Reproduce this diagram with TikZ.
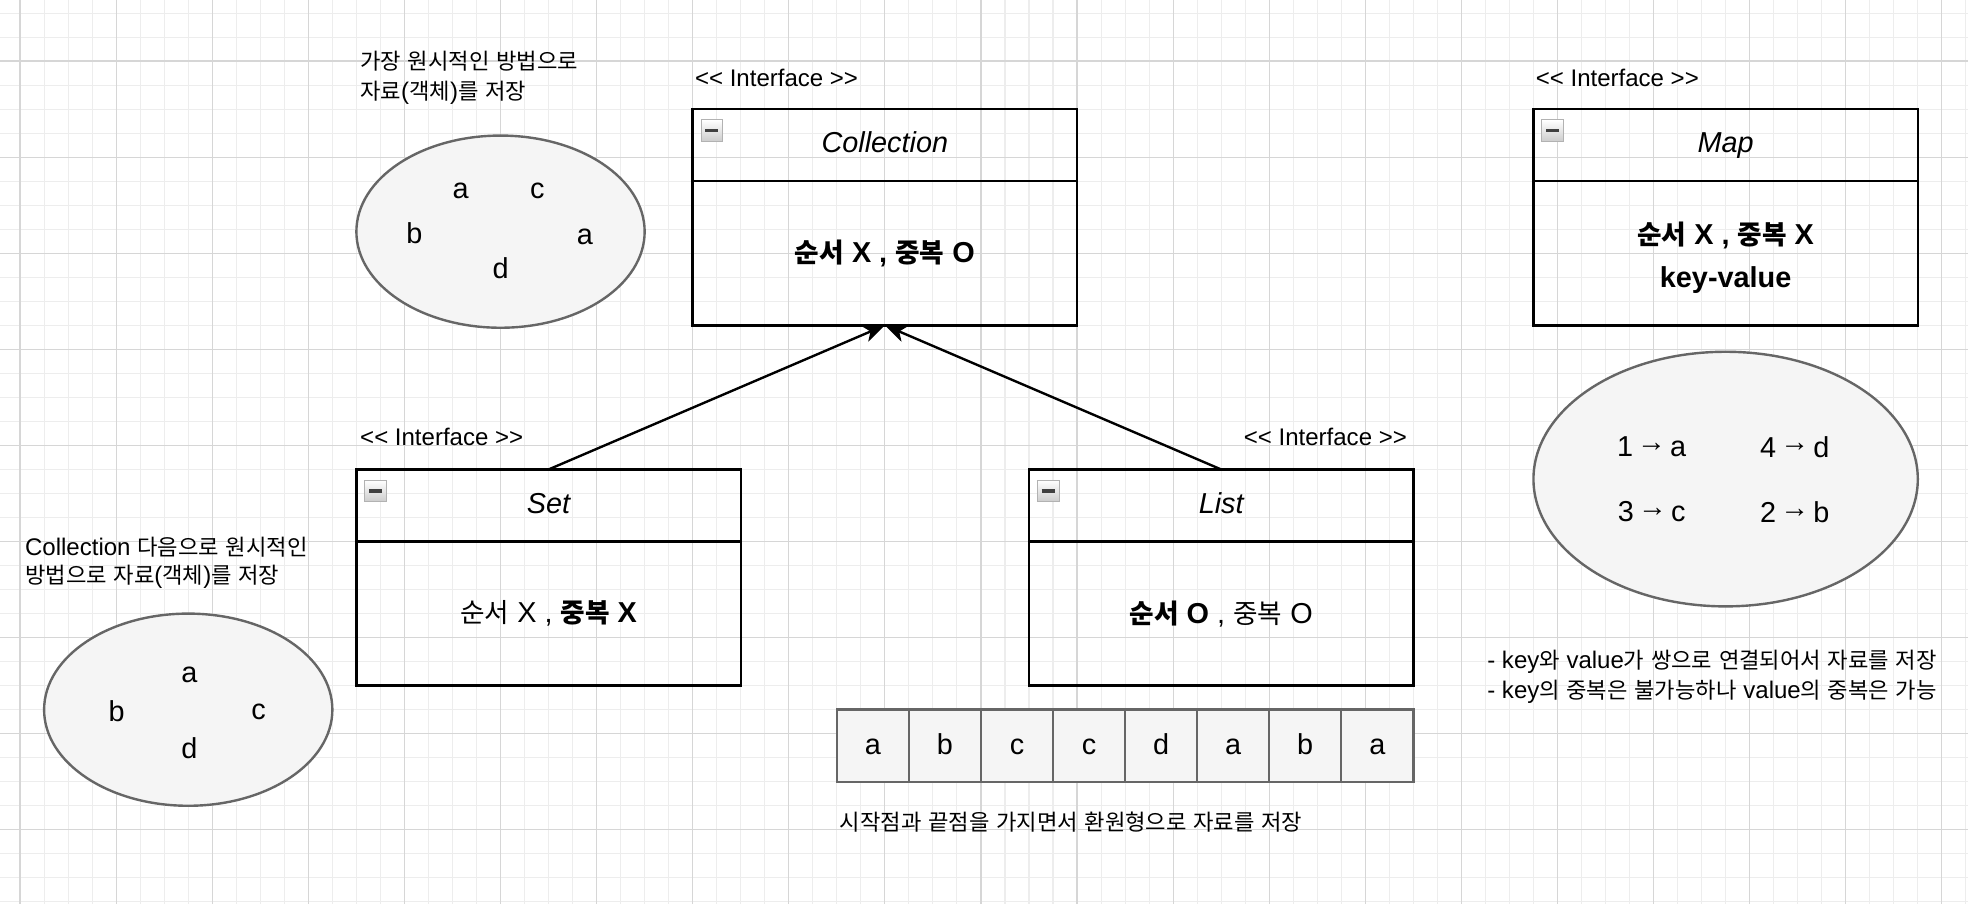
\documentclass[tikz,border=0pt]{standalone}
\usepackage{fontspec}
\setmainfont{Liberation Sans}
\newfontfamily\krfont[Scale=0.925]{Noto Sans CJK KR}
\usetikzlibrary{arrows.meta,shapes.geometric}

% hangul runs switch to the korean font by themselves
\XeTeXinterchartokenstate=1
\newXeTeXintercharclass\krclass
\count255="AC00
\loop
  \XeTeXcharclass\count255=\krclass
  \advance\count255 by 1
\ifnum\count255<"D7A4 \repeat
\XeTeXinterchartoks 0 \krclass={\krfont}
\XeTeXinterchartoks 4095 \krclass={\krfont}
\XeTeXinterchartoks \krclass 0={\rmfamily}
\XeTeXinterchartoks \krclass 4095={\rmfamily}

\newcommand\maparrow{\kern-1.6pt\raisebox{2.2pt}{→}\kern-1.6pt}

\begin{document}
\begin{tikzpicture}[x=1pt,y=-1pt,
    every node/.style={font=\fontsize{12}{14}\selectfont, inner sep=0pt, outer sep=0pt},
    gridminor/.style={black!7, line width=0.45pt},
    gridmajor/.style={black!16, line width=0.5pt},
    head/.style={draw, line width=1pt, minimum width=160pt, minimum height=30pt,
      text height=8.8pt, text depth=2.4pt, font=\fontsize{12}{14}\selectfont\itshape},
    body/.style={draw, line width=1pt, minimum width=160pt, minimum height=60pt},
    stereo/.style={font=\fontsize{10}{12}\selectfont},
    note/.style={font=\fontsize{10}{12.3}\selectfont, align=left, anchor=west},
    blob/.style={ellipse, draw=black!60, fill=black!4, line width=1pt},
    cell/.style={draw=black!60, fill=black!4, line width=1pt, minimum size=30pt,
      text height=8pt, text depth=1pt},
    collapse/.style={minimum size=9pt, draw=gray!60, top color=white, bottom color=gray!40,
      path picture={\draw[line width=1.4pt, black!75] ([xshift=1.8pt]path picture bounding box.west)
        -- ([xshift=-1.8pt]path picture bounding box.east);}},
    inherit/.style={line width=1pt, -{Stealth[length=9pt,width=7pt,inset=2.5pt]}}]
  \useasboundingbox (-8.36,-25.44) rectangle (810.9,350.7);
  \fill[white] (-8.36,-25.44) rectangle (810.9,350.7);

  % background grid
  \foreach \gx in {-10,0,...,820} \draw[gridminor] (\gx,-30) -- (\gx,360);
  \foreach \gy in {-30,-20,...,360} \draw[gridminor] (-10,\gy) -- (820,\gy);
  \foreach \gx in {0,40,...,800} \draw[gridmajor] (\gx,-30) -- (\gx,360);
  \foreach \gy in {0,40,...,320} \draw[gridmajor] (-10,\gy) -- (820,\gy);

  % interfaces
  \node[head] (colhead) at (360,35) {Collection};
  \node[body, font=\fontsize{12}{14}\selectfont\bfseries] (colbody) at (360,80) {순서 X , 중복 O};
  \node[head] (sethead) at (220,185) {Set};
  \node[body] (setbody) at (220,230) {순서 X , \textbf{중복 X}};
  \node[head] (listhead) at (500,185) {List};
  \node[body] (listbody) at (500,230) {\textbf{순서 O} , 중복 O};
  \node[head] (maphead) at (710,35) {Map};
  \node[body] (mapbody) at (710,80) {};
  \node[align=center, font=\fontsize{12}{17.8}\selectfont\bfseries] (maptext) at (710,81.8) {순서 X , 중복 X\\key-value};

  \node[collapse] (colicon) at ([shift={(8,9)}]colhead.north west) {};
  \node[collapse] (seticon) at ([shift={(8,9)}]sethead.north west) {};
  \node[collapse] (listicon) at ([shift={(8,9)}]listhead.north west) {};
  \node[collapse] (mapicon) at ([shift={(8,9)}]maphead.north west) {};

  \node[stereo, anchor=west] (colstereo) at (281,7) {<{}< Interface >{}>};
  \node[stereo, anchor=west] (setstereo) at (141.6,156.4) {<{}< Interface >{}>};
  \node[stereo, anchor=east] (liststereo) at (577.3,156.4) {<{}< Interface >{}>};
  \node[stereo, anchor=west] (mapstereo) at (631,7) {<{}< Interface >{}>};

  \draw[inherit] (sethead.north) -- (colbody.south);
  \draw[inherit] (listhead.north) -- (colbody.south);

  % bag of objects
  \node[note] (bagnote) at (141.6,7) {가장 원시적인 방법으로\\자료(객체)를 저장};
  \node[blob, minimum width=120pt, minimum height=80pt] (bag) at (200,71) {};
  \foreach \ch/\px/\py [count=\i] in {a/183.4/54, c/215.3/54, b/164.1/71.7, a/235.1/73.3, d/200.1/86.4}
    \node (bag\i) at (\px,\py) {\ch};

  % set
  \node[note, font=\fontsize{10}{11.6}\selectfont] (setnote) at (2.1,209) {Collection 다음으로 원시적인\\방법으로 자료(객체)를 저장};
  \node[blob, minimum width=120pt, minimum height=80pt] (setbag) at (70,270) {};
  \foreach \ch/\px/\py [count=\i] in {a/70.5/255.6, b/40.2/270.8, c/99.3/270.8, d/70.5/286}
    \node (setbag\i) at (\px,\py) {\ch};

  % list
  \foreach \ch [count=\i] in {a,b,c,c,d,a,b,a}
    \node[cell] (cell\i) at ({325+30*\i},285) {\ch};
  \node[note] (listnote) at (341.2,316.7) {시작점과 끝점을 가지면서 환원형으로 자료를 저장};

  % map
  \node[blob, minimum width=160pt, minimum height=106pt] (mapbag) at (710,174) {};
  \node (kv1) at (679.2,160.6) {1 \maparrow{} a};
  \node (kv4) at (738.8,160.6) {4 \maparrow{} d};
  \node (kv3) at (679.2,187.7) {3 \maparrow{} c};
  \node (kv2) at (738.8,187.7) {2 \maparrow{} b};
  \node[note, font=\fontsize{10}{12.5}\selectfont] (mapnote) at (610.8,256.3) {- key와 value가 쌍으로 연결되어서 자료를 저장\\- key의 중복은 불가능하나 value의 중복은 가능};
\end{tikzpicture}
\end{document}
